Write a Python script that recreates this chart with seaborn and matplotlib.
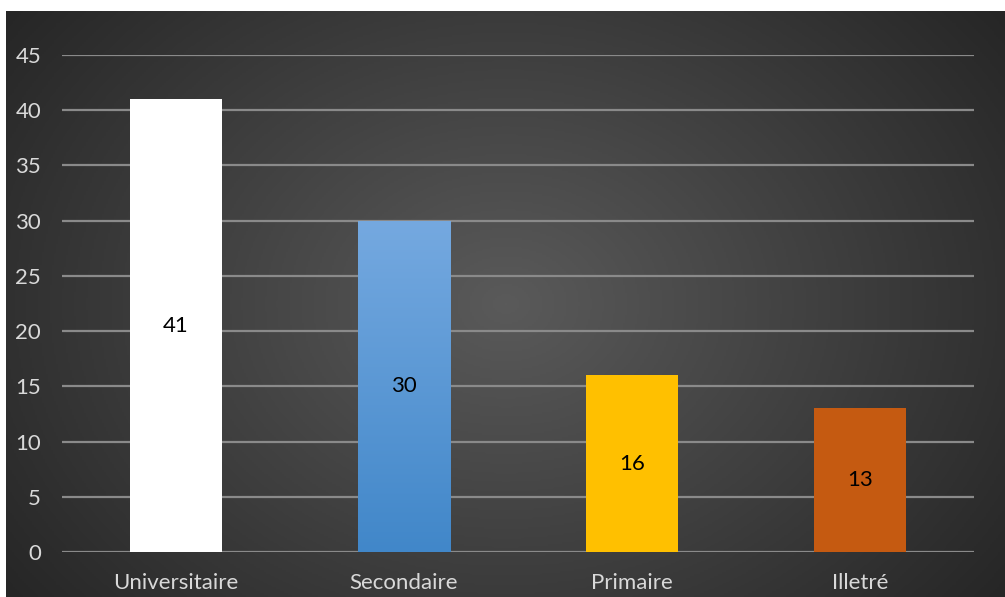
import numpy as np
import pandas as pd
import matplotlib.pyplot as plt
import seaborn as sns
from matplotlib.colors import LinearSegmentedColormap

sns.set_theme(style="white")
plt.rcParams['font.family'] = ['Lato', 'DejaVu Sans']

categories = ["Universitaire", "Secondaire", "Primaire", "Illetré"]
values = [41, 30, 16, 13]
colors = ["#ffffff", "#5b9bd5", "#ffc000", "#c55a11"]
y_ticks = [0, 5, 10, 15, 20, 25, 30, 35, 40, 45]

df = pd.DataFrame({"niveau": categories, "effectif": values})

fig = plt.figure(figsize=(10.05, 5.97), dpi=100, facecolor="white")

# dark radial background
bg = fig.add_axes([6 / 1005, 0, 999 / 1005, 586 / 597])
yy, xx = np.mgrid[-1:1:300j, -1:1:500j]
r = np.sqrt(xx ** 2 + (yy * 0.75) ** 2)
bg_cmap = LinearSegmentedColormap.from_list("bg", ["#5a5a5a", "#262626"])
bg.imshow(r, cmap=bg_cmap, aspect="auto", vmin=0, vmax=1.25, extent=[0, 1, 0, 1])
bg.set_axis_off()

ax = fig.add_axes([62 / 1005, 45 / 597, 912 / 1005, 497 / 597])
ax.set_facecolor("none")
sns.barplot(data=df, x="niveau", y="effectif", hue="niveau", palette=colors,
            width=0.404, saturation=1, legend=False, ax=ax, zorder=3,
            linewidth=0, edgecolor="none")

# vertical gradient on the blue bar
blue = ax.patches[1]
bx, by = blue.get_x(), blue.get_y()
bw, bh = blue.get_width(), blue.get_height()
grad = LinearSegmentedColormap.from_list("blue", ["#4187c9", "#75a9e0"])
im = ax.imshow(np.linspace(0, 1, 256).reshape(-1, 1), cmap=grad, origin="lower",
               extent=[bx, bx + bw, by, by + bh], aspect="auto", zorder=4)
im.set_clip_path(blue)

for c in ax.containers:
    ax.bar_label(c, label_type="center", fontsize=16, color="black", zorder=5)
for t in ax.texts:
    t.set_zorder(6)

ax.set_ylim(0, 45)
ax.set_xlim(-0.5, len(categories) - 0.5)
ax.set_yticks(y_ticks)
ax.yaxis.grid(True, color="#8a8a8a", linewidth=1.6)
ax.set_axisbelow(True)
for s in ax.spines.values():
    s.set_visible(False)
ax.tick_params(axis="both", length=0, colors="#d9d9d9", labelsize=16)
ax.tick_params(axis="y", pad=15)
ax.tick_params(axis="x", pad=15)
ax.set_xlabel("")
ax.set_ylabel("")

plt.savefig("out.png", dpi=100, facecolor="white")
